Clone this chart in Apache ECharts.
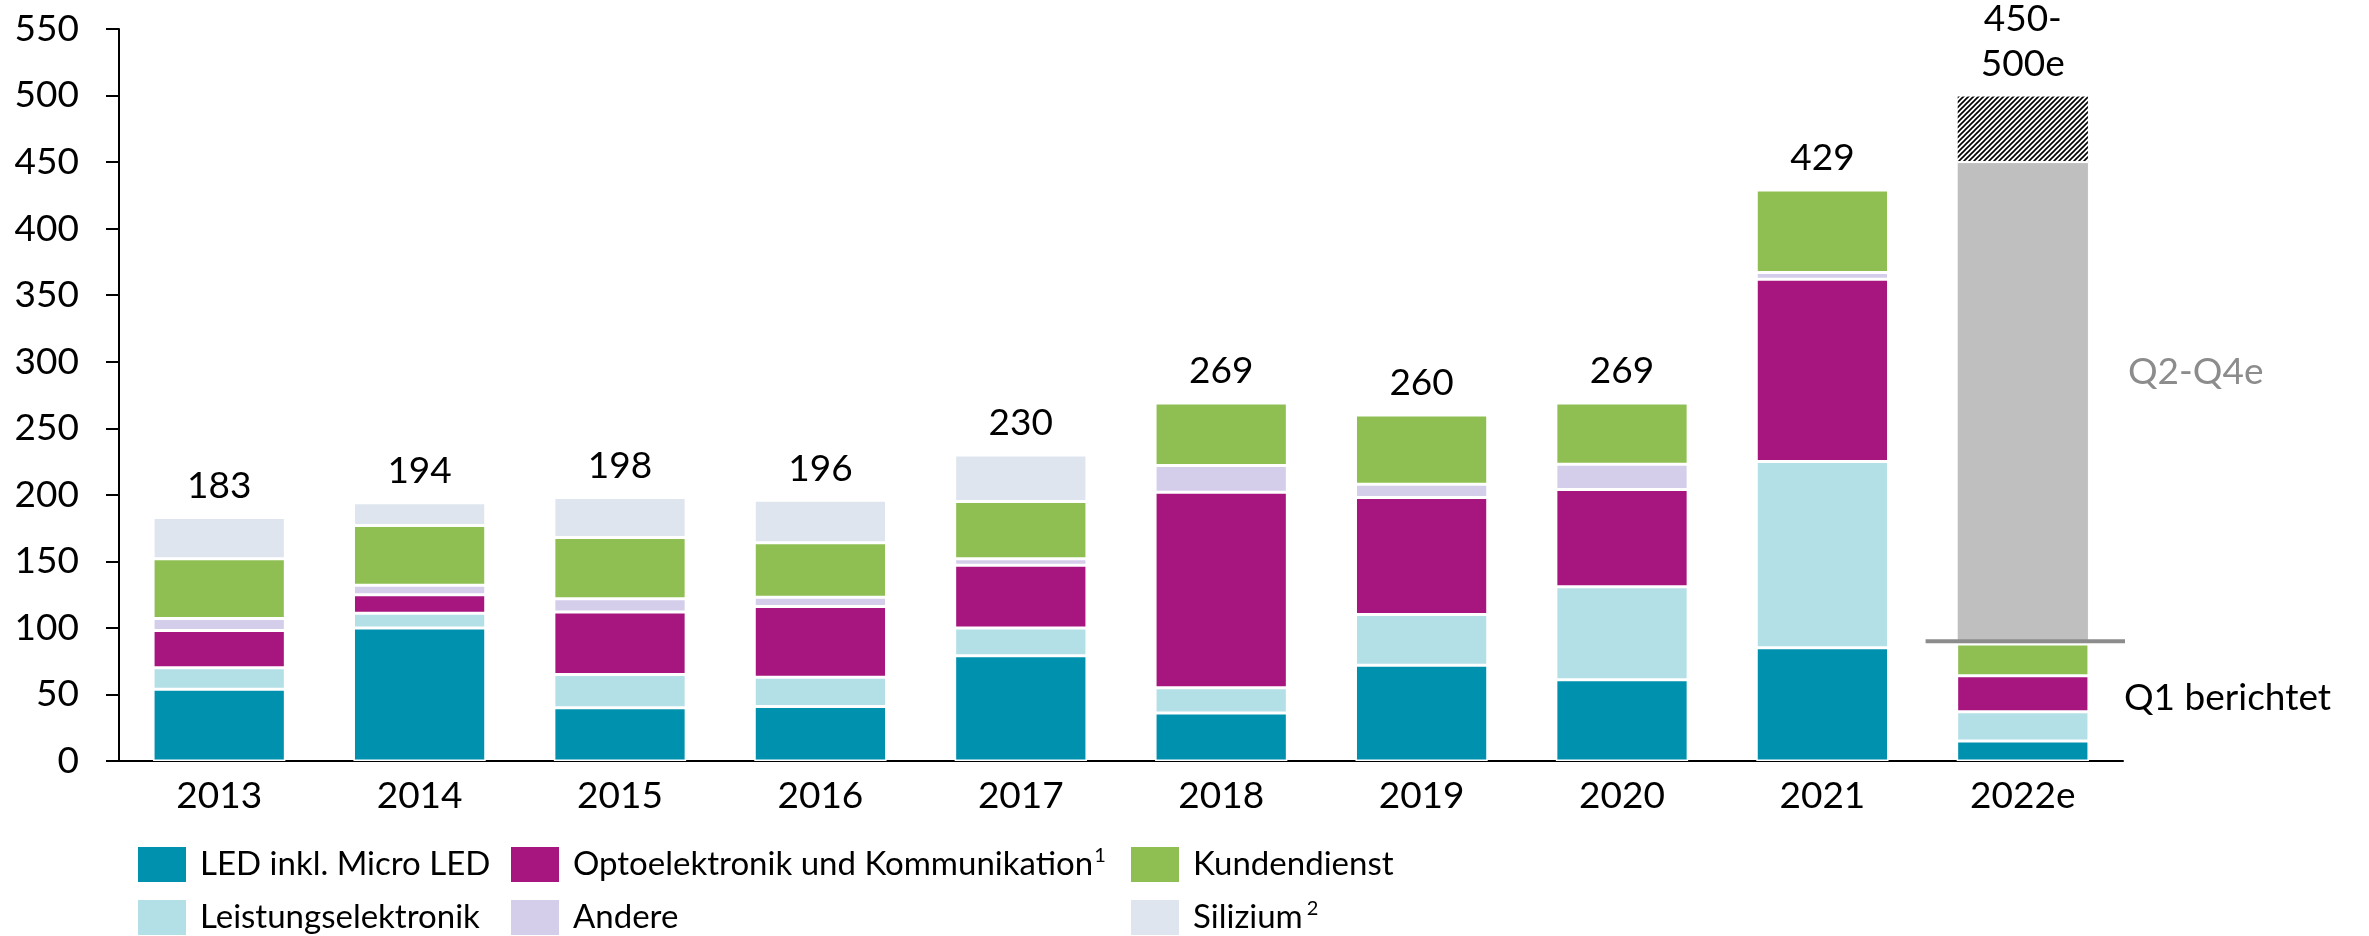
<!DOCTYPE html>
<html><head><meta charset="utf-8">
<script src="https://cdn.jsdelivr.net/npm/echarts@6/dist/echarts.min.js"></script>
<style>html,body{margin:0;padding:0;background:#fff}#c{width:2369px;height:936px}</style>
</head><body><div id="c"></div>
<script>
// ---- data ----
const categories = ['2013','2014','2015','2016','2017','2018','2019','2020','2021','2022e'];
const ledMicroLed = [54,100,40,41,79,36,72,61,85,15];
const leistungselektronik = [16,11,25,22,21,19,38,70,140,22];
const optoKommunikation = [28,14,47,53,47,147,88,73,137,27];
const andere = [9,7,10,7,5,20,10,19,5,null];
const kundendienst = [45,45,46,41,43,47,52,46,62,24];
const silizium = [31,17,30,32,35,null,null,null,null,null];
const q2q4Estimate = [null,null,null,null,null,null,null,null,null,362];
const rangeEstimate = [null,null,null,null,null,null,null,null,null,50];
const totals = [183,194,198,196,230,269,260,269,429,500];
const totalLabels = ['183','194','198','196','230','269','260','269','429','450-\n500e'];
const q1ReportedLevel = 90;
const yMin = 0, yMax = 550, yInterval = 50;
const seriesNames = ['LED inkl. Micro LED','Leistungselektronik','Optoelektronik und Kommunikation','Andere','Kundendienst','Silizium'];
const footnoteMarks = ['', '', '1', '', '', '2'];

const FONT = 'Lato, "Open Sans", sans-serif';

// hatch pattern
function hatch(){
  const s = 5, c = document.createElement('canvas');
  c.width = s; c.height = s;
  const g = c.getContext('2d');
  g.fillStyle = '#fff'; g.fillRect(0,0,s,s);
  g.strokeStyle = '#000'; g.lineWidth = 1.6;
  g.beginPath();
  g.moveTo(-1, s+1); g.lineTo(s+1, -1);
  g.moveTo(-1, 1); g.lineTo(1, -1);
  g.moveTo(s-1, s+1); g.lineTo(s+1, s-1);
  g.stroke();
  return c;
}

const colors = ['#0091AE','#B3DFE6','#A6167E','#D4CEEA','#8FBF52','#DFE5EE'];
const values = [ledMicroLed, leistungselektronik, optoKommunikation, andere, kundendienst, silizium];

const series = values.map((arr, i) => ({
  name: seriesNames[i], type: 'bar', stack: 'total', data: arr,
  barCategoryGap: '34%',
  itemStyle: { color: colors[i], borderColor: '#fff', borderWidth: 1.5 }
}));
series.push({ name: 'Q2-Q4e', type: 'bar', stack: 'total', data: q2q4Estimate,
  barCategoryGap: '34%', itemStyle: { color: '#BFBFBF', borderColor: '#fff', borderWidth: 1 } });
series.push({ name: 'Spanne', type: 'bar', stack: 'total', data: rangeEstimate,
  barCategoryGap: '34%', itemStyle: { color: { image: hatch(), repeat: 'repeat' }, borderColor: '#fff', borderWidth: 1 } });
// totals
series.push({ type: 'custom', z: 10, data: totals.map((v, i) => [i, v]),
  renderItem(params, api) {
    const p = api.coord([api.value(0), api.value(1)]);
    return { type: 'text', x: p[0], y: p[1] - 9,
      style: { text: totalLabels[params.dataIndex], fill: '#000', fontSize: 37, fontFamily: FONT,
        align: 'center', verticalAlign: 'bottom', lineHeight: 45 } };
  } });
// Q1 line + annotations
series.push({ type: 'custom', z: 11, data: [[categories.length - 1, q1ReportedLevel]],
  renderItem(params, api) {
    const p = api.coord([api.value(0), api.value(1)]);
    const w = api.size([1, 0])[0];
    const xr = p[0] + w / 2;
    return { type: 'group', children: [
      { type: 'line', shape: { x1: p[0] - w / 2 + 3, y1: p[1], x2: xr + 2, y2: p[1] },
        style: { stroke: '#8C8C8C', lineWidth: 4 } },
      { type: 'text', x: xr + 5, y: api.coord([api.value(0), 292])[1],
        style: { text: 'Q2-Q4e', fill: '#8C8C8C', fontSize: 37, fontFamily: FONT, align: 'left', verticalAlign: 'middle' } },
      { type: 'text', x: xr + 1, y: api.coord([api.value(0), 47])[1],
        style: { text: 'Q1 berichtet', fill: '#000', fontSize: 37, fontFamily: FONT, align: 'left', verticalAlign: 'middle' } }
    ] };
  } });

function legendItem(left, top, i) {
  const mark = footnoteMarks[i];
  return { show: true, orient: 'horizontal', left: left, top: top, padding: 0,
    itemWidth: 50, itemHeight: 37, selectedMode: false, icon: 'rect',
    data: [seriesNames[i]],
    formatter: name => mark ? '{t|' + name + '}{sp|' + (i === 5 ? ' ' : '') + '}{sup|' + mark + '}' : '{t|' + name + '}',
    textStyle: { fontSize: 33, fontFamily: FONT, color: '#000', padding: [0, 0, 0, 8],
      rich: {
        t: { fontSize: 33, fontFamily: FONT, color: '#000', lineHeight: 37 },
        sp: { fontSize: 12, fontFamily: FONT, lineHeight: 37 },
        sup: { fontSize: 20, fontFamily: FONT, color: '#000', verticalAlign: 'top', lineHeight: 30, padding: [0, 0, 0, 1] }
      } } };
}
const legendCols = [136, 509, 1129];
const legendRows = [845, 898];
const legendGrid = [[0,0],[0,1],[1,0],[1,1],[2,0],[2,1]];

const chart = echarts.init(document.getElementById('c'), null, { renderer: 'canvas' });
chart.setOption({
  animation: false,
  backgroundColor: '#fff',
  grid: { left: 119, right: 246, top: 29, bottom: 175, containLabel: false },
  legend: seriesNames.map((n, i) => legendItem(legendCols[legendGrid[i][0]], legendRows[legendGrid[i][1]], i)),
  xAxis: { type: 'category', data: categories,
    axisLine: { lineStyle: { color: '#000', width: 2 } },
    axisTick: { show: false },
    axisLabel: { fontSize: 37, fontFamily: FONT, color: '#000', margin: 17 } },
  yAxis: { type: 'value', min: yMin, max: yMax, interval: yInterval,
    splitLine: { show: false },
    axisLine: { show: true, lineStyle: { color: '#000', width: 2 } },
    axisTick: { show: true, length: 13, lineStyle: { color: '#000', width: 2 } },
    axisLabel: { fontSize: 37, fontFamily: FONT, color: '#000', margin: 40 } },
  series: series
});
</script></body></html>
